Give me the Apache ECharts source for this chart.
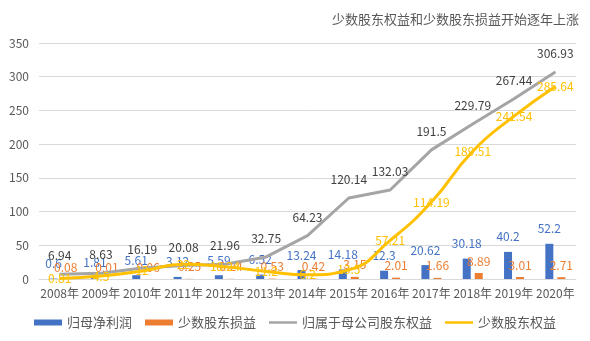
<!DOCTYPE html>
<html><head><meta charset="utf-8">
<script src="https://cdn.jsdelivr.net/npm/echarts@6/dist/echarts.min.js"></script>
<style>html,body{margin:0;padding:0;background:#fff}#c{width:590px;height:341px}</style>
</head><body><div id="c"></div>
<script>
const years = ['2008年','2009年','2010年','2011年','2012年','2013年','2014年','2015年','2016年','2017年','2018年','2019年','2020年'];
const netProfit = [0.6, 1.81, 5.61, 3.12, 5.59, 6.52, 13.24, 14.18, 12.3, 20.62, 30.18, 40.2, 52.2];
const minorityPL = [0.08, 0.01, 0.06, 0.25, 0.24, 0.53, 0.42, 3.15, 2.01, 1.66, 8.89, 3.01, 2.71];
const parentEquity = [6.94, 8.63, 16.19, 20.08, 21.96, 32.75, 64.23, 120.14, 132.03, 191.5, 229.79, 267.44, 306.93];
const minorityEquity = [0.81, 4.5, 12, 22, 18.24, 11.2, 6.2, 13.5, 57.21, 114.19, 189.51, 241.54, 285.64];
const yTicks = {min: 0, max: 350, interval: 50};

const font = '"Noto Sans CJK SC", sans-serif';
const lineIcon = 'path://M0,0 L28,0 L28,2.5 L0,2.5 Z';
const chart = echarts.init(document.getElementById('c'));
chart.setOption({
  animation: false,
  textStyle: {fontFamily: font},
  title: {
    text: '少数股东权益和少数股东损益开始逐年上涨',
    right: 6, top: 8,
    textStyle: {fontSize: 13, fontWeight: 'normal', color: '#595959', fontFamily: font}
  },
  grid: {left: 39, right: 14, top: 43, bottom: 62},
  legend: {
    bottom: 7, left: 'center',
    itemWidth: 28, itemHeight: 6, itemGap: 13,
    textStyle: {fontSize: 13, color: '#595959', fontFamily: font},
    data: [
      {name: '归母净利润', icon: 'rect'},
      {name: '少数股东损益', icon: 'rect'},
      {name: '归属于母公司股东权益', icon: lineIcon},
      {name: '少数股东权益', icon: lineIcon}
    ]
  },
  xAxis: {
    type: 'category', data: years,
    axisLine: {lineStyle: {color: '#d9d9d9'}},
    axisTick: {show: false},
    axisLabel: {color: '#595959', fontSize: 12, margin: 8, interval: 0, fontFamily: font}
  },
  yAxis: {
    type: 'value', min: yTicks.min, max: yTicks.max, interval: yTicks.interval,
    axisLine: {show: false}, axisTick: {show: false},
    splitLine: {lineStyle: {color: '#d9d9d9'}},
    axisLabel: {color: '#595959', fontSize: 12, margin: 10, fontFamily: font}
  },
  series: [
    {
      name: '归母净利润', type: 'bar', data: netProfit, barWidth: 8, barGap: '50%',
      itemStyle: {color: '#4472C4'},
      label: {show: true, position: 'top', distance: 9, color: '#4472C4', fontSize: 12, fontFamily: font}
    },
    {
      name: '少数股东损益', type: 'bar', data: minorityPL, barWidth: 8,
      itemStyle: {color: '#ED7D31'},
      label: {show: true, position: 'top', distance: 6, color: '#ED7D31', fontSize: 12, fontFamily: font}
    },
    {
      name: '归属于母公司股东权益', type: 'line', data: parentEquity,
      symbol: 'circle', symbolSize: 1,
      lineStyle: {color: '#A5A5A5', width: 3},
      itemStyle: {color: '#A5A5A5'},
      label: {show: true, position: 'top', distance: 12, color: '#404040', fontSize: 12, fontFamily: font}
    },
    {
      name: '少数股东权益', type: 'line', data: minorityEquity, smooth: true,
      symbol: 'circle', symbolSize: 1,
      lineStyle: {color: '#FFC000', width: 3},
      itemStyle: {color: '#FFC000'},
      label: {show: true, position: 'inside', color: '#FFC000', fontSize: 12, fontFamily: font}
    }
  ]
});
</script>
</body></html>
